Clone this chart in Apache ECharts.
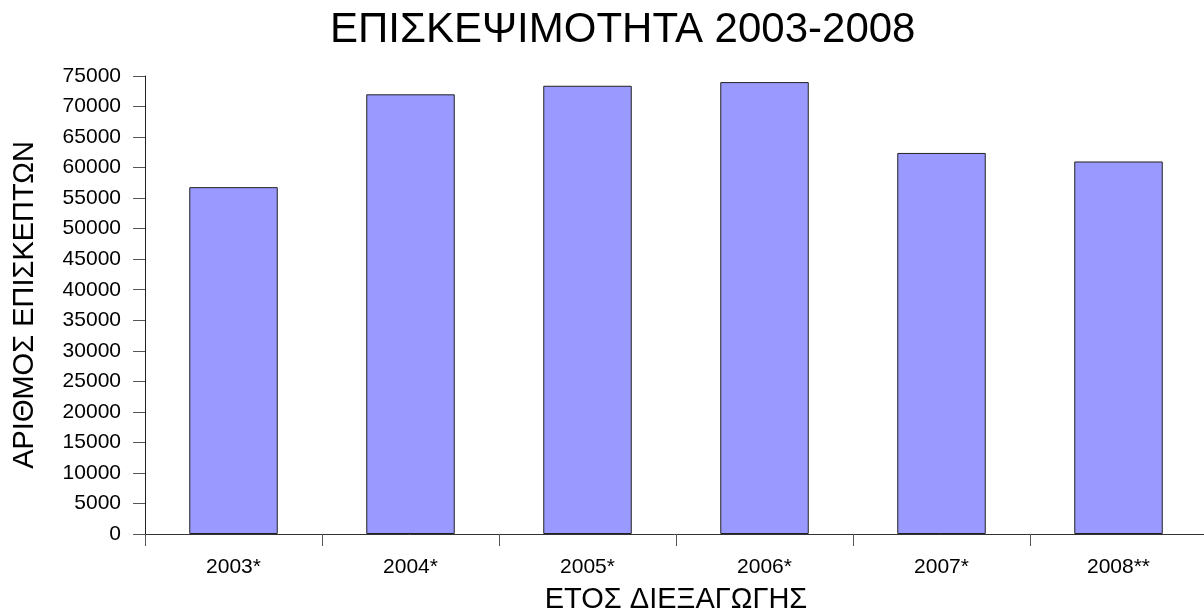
<!DOCTYPE html>
<html>
<head>
<meta charset="utf-8">
<script src="https://cdn.jsdelivr.net/npm/echarts@6/dist/echarts.min.js"></script>
<style>
html,body{margin:0;padding:0;background:#fff;}
#c{width:1204px;height:615px;}
</style>
</head>
<body>
<div id="c"></div>
<script>
const titleText = 'ΕΠΙΣΚΕΨΙΜΟΤΗΤΑ 2003-2008';
const xAxisName = 'ΕΤΟΣ ΔΙΕΞΑΓΩΓΗΣ';
const yAxisName = 'ΑΡΙΘΜΟΣ ΕΠΙΣΚΕΠΤΩΝ';
const categories = ['2003*', '2004*', '2005*', '2006*', '2007*', '2008**'];
const visitors = [56800, 72000, 73400, 74000, 62400, 61000];

const chart = echarts.init(document.getElementById('c'), null, {renderer: 'canvas'});
const font = '"Liberation Sans", Arial, sans-serif';
chart.setOption({
  animation: false,
  backgroundColor: '#ffffff',
  title: {
    text: titleText,
    left: 325,
    top: 4,
    textStyle: {fontFamily: font, fontSize: 42, fontWeight: 'normal', color: '#000'}
  },
  grid: {left: 145, right: -3, top: 76, bottom: 81, containLabel: false, outerBoundsMode: 'none'},
  xAxis: {
    type: 'category',
    data: categories,
    name: xAxisName,
    nameLocation: 'middle',
    nameGap: 51,
    nameTextStyle: {fontFamily: font, fontSize: 29, color: '#000'},
    axisLine: {lineStyle: {color: '#333', width: 1}},
    axisTick: {show: true, length: 12, lineStyle: {color: '#555'}},
    axisLabel: {fontFamily: font, fontSize: 21, color: '#000', margin: 23}
  },
  yAxis: {
    type: 'value',
    min: 0,
    max: 75000,
    interval: 5000,
    name: yAxisName,
    nameLocation: 'middle',
    nameGap: 106,
    nameTextStyle: {fontFamily: font, fontSize: 29, color: '#000'},
    axisLine: {show: true, lineStyle: {color: '#222', width: 1}},
    axisTick: {show: true, length: 12, lineStyle: {color: '#555'}},
    splitLine: {show: false},
    axisLabel: {fontFamily: font, fontSize: 21, color: '#000', margin: 24, formatter: function (v) { return String(v); }}
  },
  series: [{
    type: 'bar',
    data: visitors,
    barWidth: '50%',
    itemStyle: {color: '#9999FF', borderColor: '#222', borderWidth: 1}
  }]
});
</script>
</body>
</html>
